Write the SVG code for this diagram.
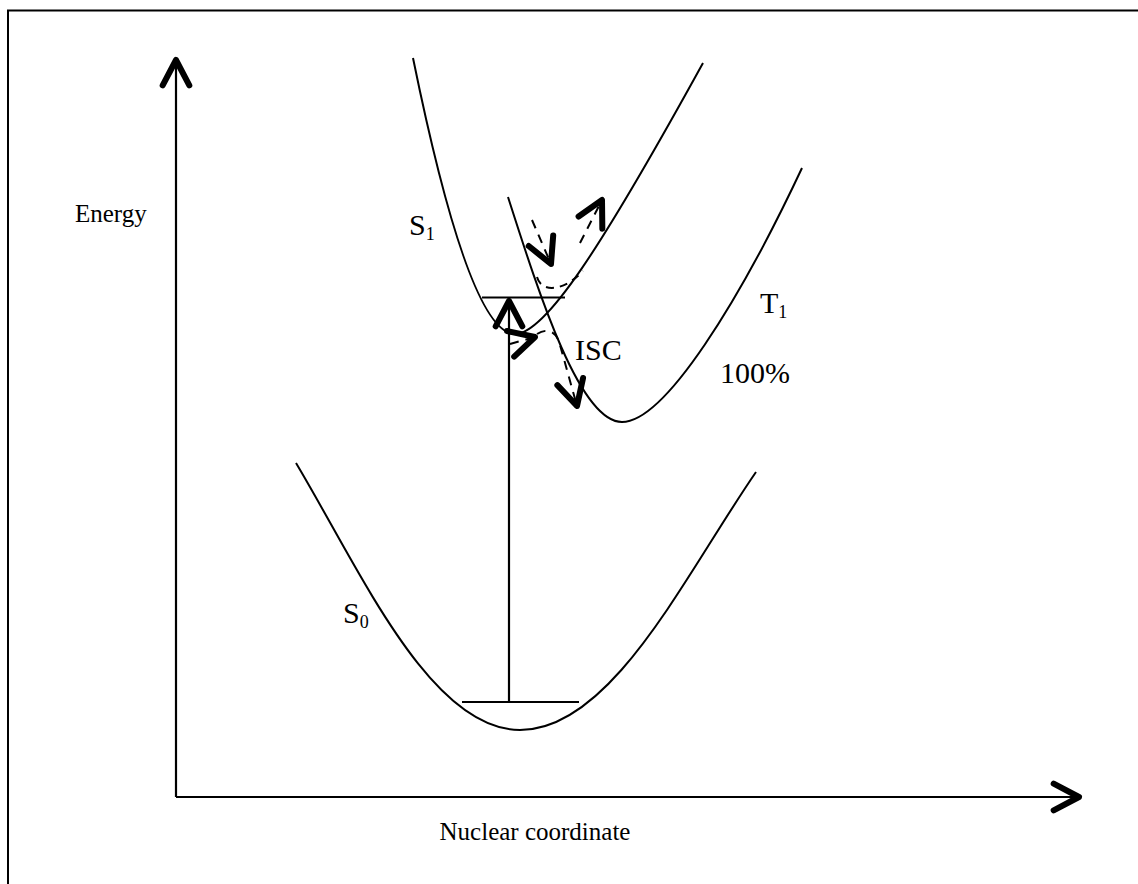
<svg xmlns="http://www.w3.org/2000/svg" width="1138" height="884" viewBox="0 0 1138 884">
<style>
.curve{fill:none;stroke:#000;stroke-width:2}
.lvl{fill:none;stroke:#000;stroke-width:1.8}
.ax{fill:none;stroke:#000;stroke-width:2.2;marker-end:url(#head)}
.dash{fill:none;stroke:#000;stroke-width:2;stroke-dasharray:9 7;marker-end:url(#head)}
.lbl{font-family:"Liberation Serif","Times New Roman",serif;font-size:30px;fill:#000}
.big{font-size:25px}
.sub{font-size:18px}
</style>
<defs>
<marker id="head" markerUnits="userSpaceOnUse" markerWidth="40" markerHeight="40" viewBox="-25 -15 30 30" refX="0" refY="0" orient="auto" overflow="visible">
<path d="M-19,-10 L0,0 L-19,10" fill="none" stroke="#000" stroke-width="4.5" stroke-linecap="round" stroke-linejoin="round"/>
</marker>
</defs>
<rect width="1138" height="884" fill="#fff"/>
<path d="M8,884 V10.5 H1138" fill="none" stroke="#000" stroke-width="2"/>
<g id="axes">
<line class="ax" x1="176" y1="797" x2="176" y2="60"/>
<line class="ax" x1="176" y1="797" x2="1079" y2="797"/>
<text class="lbl big" x="75" y="222">Energy</text>
<text class="lbl big" x="535" y="840" text-anchor="middle">Nuclear coordinate</text>
</g>
<g id="S0">
<path class="curve" d="M296,463 C360,570 430,730 520,730 C612,730 685,575 756,472"/>
<line class="lvl" x1="462" y1="702" x2="579" y2="702"/>
<text class="lbl" x="343" y="623">S<tspan class="sub" dy="5">0</tspan></text>
</g>
<g id="S1">
<path class="curve" d="M413,58 C445,215 480,334 515,334 C545,334 600,250 703,63"/>
<line class="lvl" x1="482" y1="297.5" x2="565" y2="297.5"/>
<text class="lbl" x="409" y="235">S<tspan class="sub" dy="5">1</tspan></text>
</g>
<g id="T1">
<path class="curve" d="M508,197 C540,297 580,422 622,422 C665,422 740,300 802,168"/>
<text class="lbl" x="760" y="313">T<tspan class="sub" dy="5">1</tspan></text>
<text class="lbl" x="720" y="383">100%</text>
</g>
<g id="ISC">
<text class="lbl" x="575" y="360">ISC</text>
</g>
<g id="connectors">
<line class="ax" x1="509" y1="702" x2="509" y2="301"/>
<path class="dash" d="M532,220 L551,264"/>
<path class="dash" d="M580,243 L602,200"/>
<path d="M537,277 C541,292 562,293 583,271" fill="none" stroke="#000" stroke-width="2" stroke-dasharray="8 6"/>
<path class="dash" d="M510,344 L535,337"/>
<path class="dash" d="M537,334 C548,327 557,332 560,345 L577,406"/>
</g>
</svg>
